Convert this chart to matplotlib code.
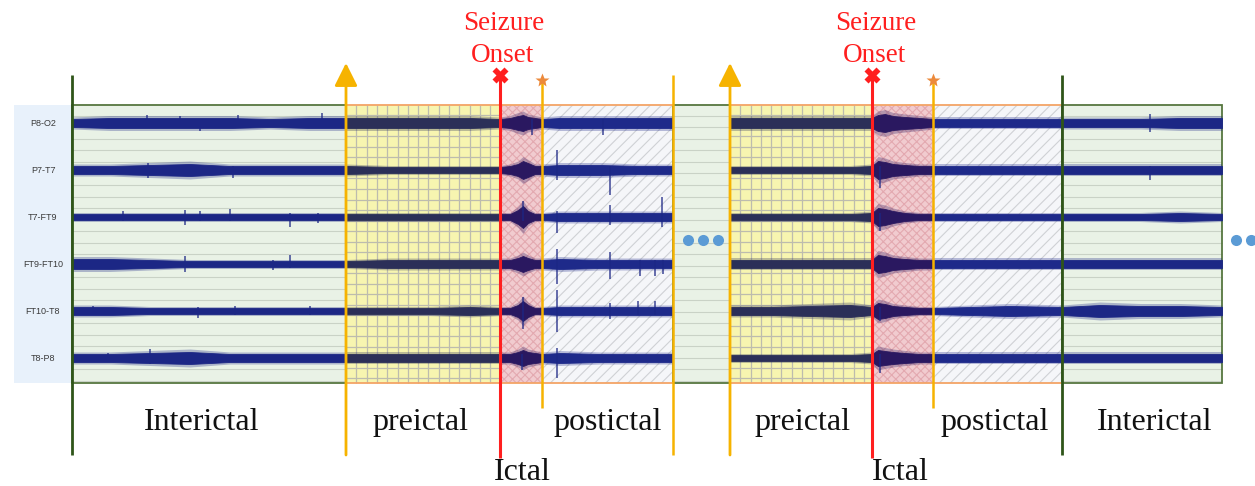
import matplotlib.pyplot as plt
import numpy as np
from matplotlib.patches import Rectangle, FancyArrowPatch

plt.rcParams['hatch.linewidth'] = 0.8

# ---- data (timeline units ~ pixels) ----
channels = ['P8-O2', 'P7-T7', 'T7-FT9', 'FT9-FT10', 'FT10-T8', 'T8-P8']

phase_kind = ['inter', 'pre', 'ictal', 'post', 'gap', 'pre', 'ictal', 'post', 'inter']
phase_start = [72, 346, 500, 542, 673, 730, 872, 933, 1062]
phase_end = [346, 500, 542, 673, 730, 872, 933, 1062, 1222]

bottom_labels = ['Interictal', 'preictal', 'postictal', 'preictal', 'postictal', 'Interictal']
bottom_label_x = [202, 420, 608, 802, 995, 1155]
onset_x = [500, 872]
post_start_x = [542, 933]
ictal_label_x = [522, 900]

# envelope knots of the two visible recordings
knots_a = [72, 110, 150, 190, 230, 270, 310, 346, 390, 430, 470, 500,
           510, 518, 523, 528, 535, 542, 560, 600, 640, 673]
knots_b = [730, 770, 810, 850, 872, 878, 885, 893, 905, 920, 933,
           970, 1010, 1062, 1100, 1140, 1180, 1222]

# half-width of each trace at the knots
amp_a = {
    'P8-O2':    [4, 5, 5, 5, 5, 4, 5, 5, 5, 5, 5, 4, 5, 7, 8, 6, 5, 4, 5, 5, 5, 5],
    'P7-T7':    [4, 4, 5, 6, 4, 4, 4, 4, 3, 3, 3, 3, 4, 6, 9, 7, 4, 4, 5, 5, 4, 4],
    'T7-FT9':   [3, 3, 3, 3, 3, 3, 3, 3, 3, 3, 3, 3, 3, 7, 11, 6, 3, 3, 4, 4, 4, 4],
    'FT9-FT10': [5, 5, 4, 3, 3, 3, 3, 3, 4, 4, 4, 4, 4, 6, 8, 6, 4, 4, 5, 4, 4, 4],
    'FT10-T8':  [4, 4, 3, 3, 3, 3, 3, 3, 3, 3, 4, 3, 3, 6, 10, 6, 3, 3, 4, 4, 4, 4],
    'T8-P8':    [4, 4, 5, 6, 4, 4, 4, 4, 4, 4, 4, 4, 4, 6, 8, 6, 5, 4, 5, 4, 4, 4],
}
amp_b = {
    'P8-O2':    [5, 5, 5, 5, 5, 8, 9, 7, 6, 5, 4, 4, 4, 4, 4, 4, 5, 5],
    'P7-T7':    [3, 3, 3, 3, 4, 9, 8, 6, 5, 4, 4, 4, 4, 4, 4, 4, 4, 4],
    'T7-FT9':   [3, 3, 3, 3, 4, 9, 8, 6, 4, 3, 3, 3, 3, 3, 3, 3, 4, 3],
    'FT9-FT10': [4, 4, 4, 4, 4, 9, 8, 6, 5, 4, 4, 4, 4, 4, 4, 4, 4, 4],
    'FT10-T8':  [4, 4, 5, 6, 4, 8, 7, 5, 4, 3, 3, 4, 5, 4, 6, 5, 5, 4],
    'T8-P8':    [3, 3, 3, 3, 4, 8, 7, 6, 5, 4, 4, 4, 4, 4, 4, 4, 4, 4],
}

# isolated spikes: (position, extent above, extent below)
spikes = {
    'P8-O2':    [(147, 8, 5), (180, 7, 4), (200, 4, 8), (238, 8, 4), (322, 10, 5),
                 (532, 4, 12), (603, 4, 12), (1150, 9, 9)],
    'P7-T7':    [(148, 7, 8), (233, 4, 8), (557, 20, 10), (610, 4, 25), (880, 4, 18),
                 (1150, 4, 10)],
    'T7-FT9':   [(123, 6, 4), (185, 7, 8), (200, 6, 4), (230, 8, 4), (290, 4, 10),
                 (318, 4, 6), (523, 16, 4), (557, 6, 16), (610, 12, 8), (662, 20, 10),
                 (880, 4, 14)],
    'FT9-FT10': [(185, 8, 8), (273, 4, 6), (290, 9, 4), (557, 15, 20), (610, 12, 15),
                 (640, 4, 12), (655, 4, 12), (663, 4, 10)],
    'FT10-T8':  [(93, 5, 4), (198, 4, 7), (235, 5, 4), (310, 5, 4), (523, 14, 18),
                 (557, 21, 21), (610, 8, 8), (638, 10, 4), (655, 10, 4), (880, 4, 10)],
    'T8-P8':    [(108, 5, 4), (150, 9, 6), (522, 4, 12), (557, 10, 20), (880, 4, 15)],
}

trace_color = {'inter': '#1c2785', 'pre': '#2b2f58', 'ictal': '#2a1860', 'post': '#1e2a8a'}

fig = plt.figure(figsize=(12.55, 4.86), dpi=100)
ax = fig.add_axes([0, 0, 1, 1])
ax.set_xlim(0, 1255)
ax.set_ylim(486, 0)
ax.axis('off')

top, bot = 105, 383
row0, drow = 123, 47

# channel label strip
ax.add_patch(Rectangle((14, top), 58, bot - top, facecolor='#e8f1fb', edgecolor='none', zorder=0))
for i, ch in enumerate(channels):
    ax.text(43, row0 + drow * i, ch, ha='center', va='center', fontsize=6.5,
            color='#3a3a3a', family='Liberation Sans')

# phase backgrounds
for kind, x0, x1 in zip(phase_kind, phase_start, phase_end):
    w = x1 - x0
    if kind in ('inter', 'gap'):
        ax.add_patch(Rectangle((x0, top), w, bot - top, facecolor='#e9f2e6', edgecolor='none', zorder=1))
        ax.hlines(np.arange(top + 11, bot, 11.5), x0, x1, color='#c9d2c6', lw=0.8, zorder=1.5)
        ax.add_patch(Rectangle((x0, top), w, bot - top, facecolor='none', edgecolor='#56763f',
                               lw=1.3, zorder=2))
    elif kind == 'pre':
        ax.add_patch(Rectangle((x0, top), w, bot - top, facecolor='#f7f5b0', edgecolor='none', zorder=1))
        ax.hlines(np.arange(top + 10.5, bot, 10.5), x0, x1, color='#bdbcae', lw=0.9, zorder=1.5)
        ax.vlines(np.arange(x0 + 10.3, x1, 10.3), top, bot, color='#bdbcae', lw=0.9, zorder=1.5)
    elif kind == 'ictal':
        ax.add_patch(Rectangle((x0, top), w, bot - top, facecolor='#f1cbcf', edgecolor='#e3a9b0',
                               lw=0, hatch='xxxx', zorder=1))
    elif kind == 'post':
        ax.add_patch(Rectangle((x0, top), w, bot - top, facecolor='#f5f6f9', edgecolor='#cfd1d5',
                               lw=0, hatch='///', zorder=1))

# orange borders of the seizure windows
for x0, x1 in [(phase_start[1], phase_end[3]), (phase_start[5], phase_end[7])]:
    ax.hlines([top, bot], x0, x1, color='#f3a466', lw=1.3, zorder=2)

# EEG traces (envelopes + spikes)
for i, ch in enumerate(channels):
    y0 = row0 + drow * i
    for kn, amps in [(knots_a, amp_a[ch]), (knots_b, amp_b[ch])]:
        kn = np.array(kn, dtype=float)
        amps = np.array(amps, dtype=float)
        for kind, x0, x1 in zip(phase_kind, phase_start, phase_end):
            m = (kn >= x0) & (kn <= x1)
            if m.sum() < 2:
                continue
            c = trace_color[kind]
            ax.fill_between(kn[m], y0 - 1.5 * amps[m], y0 + 1.5 * amps[m], color=c,
                            alpha=0.3, lw=0, zorder=3)
            ax.fill_between(kn[m], y0 - amps[m], y0 + amps[m], color=c,
                            lw=0.6, edgecolor=c, zorder=3)
    for sx, up, dn in spikes[ch]:
        ax.vlines(sx, y0 - up, y0 + dn, color='#1c2785', lw=1.1, alpha=0.85, zorder=3)

# vertical markers
green = '#2f5519'
orange = '#f6b300'
red = '#ff1f1f'
for x in [phase_start[0], phase_start[8]]:
    ax.vlines(x, 75, 455, color=green, lw=2.0, zorder=5)
ax.vlines(phase_end[3], 75, 455, color=orange, lw=1.8, zorder=5)
for x in [phase_start[1], phase_start[5]]:
    ax.add_patch(FancyArrowPatch((x, 455), (x, 63), arrowstyle='-|>,head_length=1.0,head_width=0.5',
                                 mutation_scale=14, color=orange, lw=2.0, zorder=5,
                                 shrinkA=0, shrinkB=0))
for x in onset_x:
    ax.vlines(x, 75, 458, color=red, lw=2.2, zorder=5)
    ax.plot(x, 75, marker='X', ms=11, color=red, mec='none', zorder=6)
    ax.text(x + 4, 23, 'Seizure', ha='center', va='center', color=red, fontsize=19.5,
            family='Liberation Serif')
    ax.text(x + 2, 56, 'Onset', ha='center', va='center', color=red, fontsize=19.5,
            family='Liberation Serif')
for x in post_start_x:
    ax.vlines(x, 80, 408, color=orange, lw=1.8, zorder=5)
    ax.plot(x, 80, marker='*', ms=10, color='#ec8a3c', mec='none', zorder=6)

# continuation dots
ax.plot([688, 703, 718], [240, 240, 240], 'o', ms=8, color='#5b9bd5', mec='none', zorder=6)
ax.plot([1236, 1251], [240, 240], 'o', ms=8, color='#5b9bd5', mec='none', zorder=6)

# phase labels
for lab, x in zip(bottom_labels, bottom_label_x):
    ax.text(x, 422, lab, ha='center', va='center', fontsize=23, family='Liberation Serif',
            color='#111111')
for x in ictal_label_x:
    ax.text(x, 472, 'Ictal', ha='center', va='center', fontsize=23, family='Liberation Serif',
            color='#111111')

fig.savefig('out.png', dpi=100, facecolor='white')
